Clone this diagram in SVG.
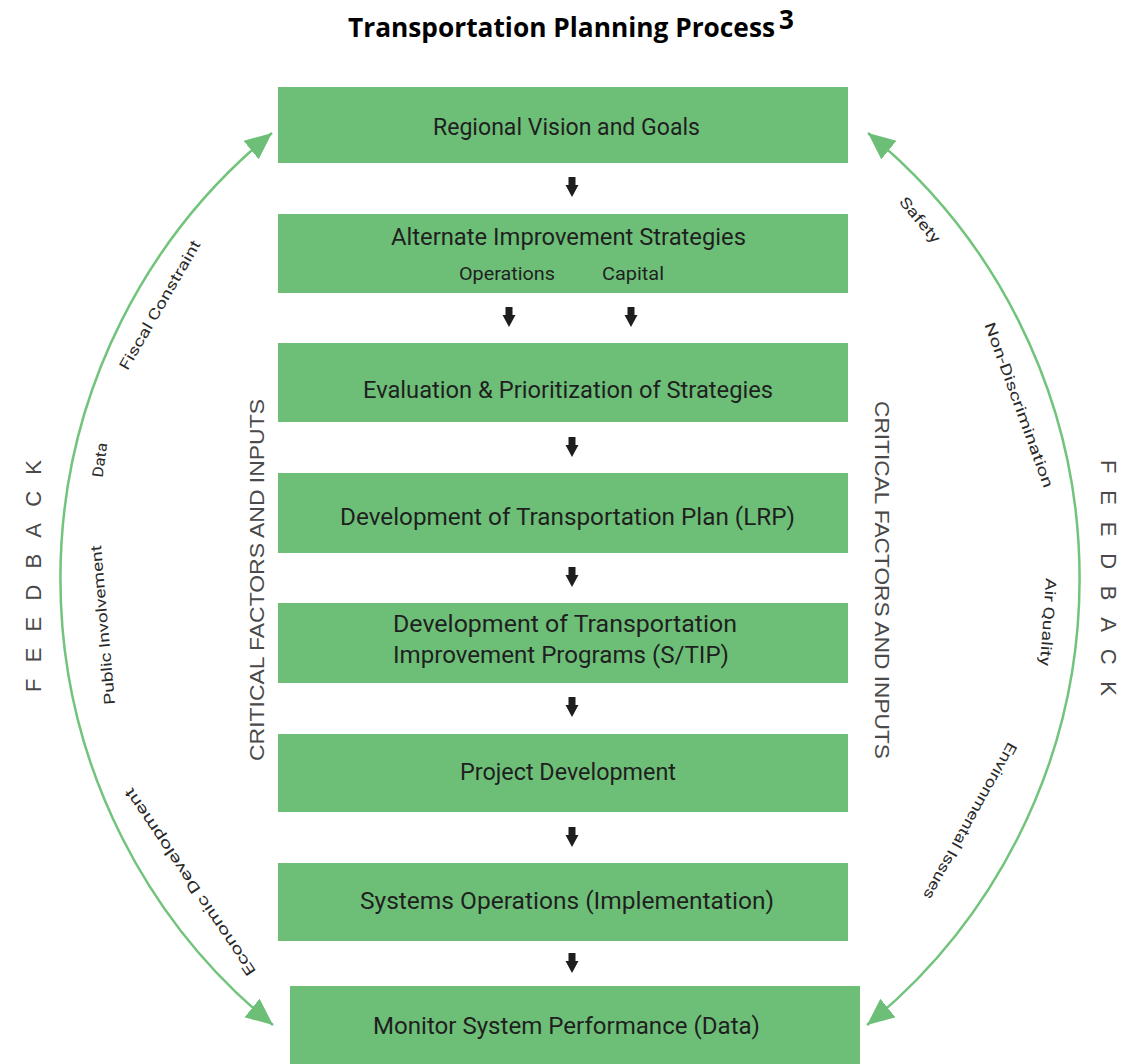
<svg xmlns="http://www.w3.org/2000/svg" width="1130" height="1064" viewBox="0 0 1130 1064">
<defs>
<style>
.box{fill:#6dbf78}
.bt{font-family:Roboto,"Liberation Sans",Arial,sans-serif;font-weight:400;font-size:23px;fill:#1f1f1f;text-anchor:middle}
.st{font-family:Roboto,"Liberation Sans",Arial,sans-serif;font-weight:400;font-size:19px;fill:#1f1f1f;text-anchor:middle}
.arc{fill:none;stroke:#72c47c;stroke-width:2.5}
.lbl{font-family:Roboto,"Liberation Sans",Arial,sans-serif;font-size:15px;fill:#2a2a2a;text-anchor:middle;dominant-baseline:central}
.cfi{font-family:"Liberation Sans",Arial,sans-serif;font-size:21px;fill:#4a4a4a;text-anchor:middle;dominant-baseline:central}
.fb{font-family:"Liberation Sans",Arial,sans-serif;font-size:22px;fill:#4a4a4a;text-anchor:middle;dominant-baseline:central}
.title{font-family:"Open Sans","Liberation Sans",Arial,sans-serif;font-weight:bold;font-size:26px;fill:#000}
.dn{fill:#1e1e1e}
</style>
<marker id="gh" markerUnits="userSpaceOnUse" markerWidth="30" markerHeight="26" refX="27" refY="12" orient="auto-start-reverse">
<path d="M0,0 L27,12 L0,24 Z" fill="#6dbf78"/>
</marker>
<path id="dnArrow" d="M-3.5,0 H3.5 V8 H6.5 L0,20 L-6.5,8 H-3.5 Z"/>
</defs>

<text class="title" x="348" y="37" textLength="427" lengthAdjust="spacingAndGlyphs">Transportation Planning Process</text>
<text class="title" x="779" y="29" font-size="16">3</text>

<g id="connectors">
<path class="arc" d="M273,1025 A575,575 0 0 1 272,133" marker-start="url(#gh)" marker-end="url(#gh)"/>
<path class="arc" d="M867,1025 A575,575 0 0 0 868,133" marker-start="url(#gh)" marker-end="url(#gh)"/>
<use href="#dnArrow" class="dn" x="572" y="177"/>
<use href="#dnArrow" class="dn" x="509" y="307"/>
<use href="#dnArrow" class="dn" x="631" y="307"/>
<use href="#dnArrow" class="dn" x="572" y="437"/>
<use href="#dnArrow" class="dn" x="572" y="567"/>
<use href="#dnArrow" class="dn" x="572" y="697"/>
<use href="#dnArrow" class="dn" x="572" y="827"/>
<use href="#dnArrow" class="dn" x="572" y="953"/>
</g>

<g id="n1"><rect class="box" x="278" y="87" width="570" height="76"/><text class="bt" x="566.5" y="135" textLength="267" lengthAdjust="spacingAndGlyphs">Regional Vision and Goals</text></g>
<g id="n2"><rect class="box" x="278" y="214" width="570" height="79"/><text class="bt" x="568.5" y="245" textLength="355" lengthAdjust="spacingAndGlyphs">Alternate Improvement Strategies</text>
<text class="st" x="507" y="280" textLength="96" lengthAdjust="spacingAndGlyphs">Operations</text>
<text class="st" x="633" y="280" textLength="62" lengthAdjust="spacingAndGlyphs">Capital</text></g>
<g id="n3"><rect class="box" x="278" y="343" width="570" height="79"/><text class="bt" x="568" y="398" textLength="410" lengthAdjust="spacingAndGlyphs">Evaluation &amp; Prioritization of Strategies</text></g>
<g id="n4"><rect class="box" x="278" y="473" width="570" height="80"/><text class="bt" x="567.5" y="525" textLength="455" lengthAdjust="spacingAndGlyphs">Development of Transportation Plan (LRP)</text></g>
<g id="n5"><rect class="box" x="278" y="603" width="570" height="80"/><text class="bt" x="393" y="632" style="text-anchor:start" textLength="344" lengthAdjust="spacingAndGlyphs">Development of Transportation</text>
<text class="bt" x="393" y="663" style="text-anchor:start" textLength="336" lengthAdjust="spacingAndGlyphs">Improvement Programs (S/TIP)</text></g>
<g id="n6"><rect class="box" x="278" y="734" width="570" height="78"/><text class="bt" x="568" y="780" textLength="216" lengthAdjust="spacingAndGlyphs">Project Development</text></g>
<g id="n7"><rect class="box" x="278" y="863" width="570" height="78"/><text class="bt" x="567" y="909" textLength="414" lengthAdjust="spacingAndGlyphs">Systems Operations (Implementation)</text></g>
<g id="n8"><rect class="box" x="290" y="986" width="570" height="80"/><text class="bt" x="566.5" y="1034" textLength="387" lengthAdjust="spacingAndGlyphs">Monitor System Performance (Data)</text></g>

<g id="side-labels">
<text class="cfi" transform="translate(256,580) rotate(-90)" textLength="362" lengthAdjust="spacingAndGlyphs">CRITICAL FACTORS AND INPUTS</text>
<text class="cfi" transform="translate(882,580) rotate(90)" textLength="358" lengthAdjust="spacingAndGlyphs">CRITICAL FACTORS AND INPUTS</text>
<text class="fb" transform="translate(33,576) rotate(-90)" textLength="232" lengthAdjust="spacing">FEEDBACK</text>
<text class="fb" transform="translate(1108,578) rotate(90)" textLength="236" lengthAdjust="spacing">FEEDBACK</text>
</g>

<g id="arc-labels">
<text class="lbl" transform="translate(160,305) rotate(-60)" textLength="147" lengthAdjust="spacingAndGlyphs">Fiscal Constraint</text>
<text class="lbl" transform="translate(100,460) rotate(-82)" textLength="35" lengthAdjust="spacingAndGlyphs">Data</text>
<text class="lbl" transform="translate(103,625) rotate(-95)" textLength="160" lengthAdjust="spacingAndGlyphs">Public Involvement</text>
<text class="lbl" transform="translate(190,882) rotate(-124)" textLength="223" lengthAdjust="spacingAndGlyphs">Economic Development</text>
<text class="lbl" transform="translate(920,220) rotate(50)" textLength="55" lengthAdjust="spacingAndGlyphs">Safety</text>
<text class="lbl" transform="translate(1019,405) rotate(70)" textLength="175" lengthAdjust="spacingAndGlyphs">Non-Discrimination</text>
<text class="lbl" transform="translate(1048,622) rotate(94)" textLength="88" lengthAdjust="spacingAndGlyphs">Air Quality</text>
<text class="lbl" transform="translate(970,821) rotate(119)" textLength="177" lengthAdjust="spacingAndGlyphs">Environmental Issues</text>
</g>
</svg>
